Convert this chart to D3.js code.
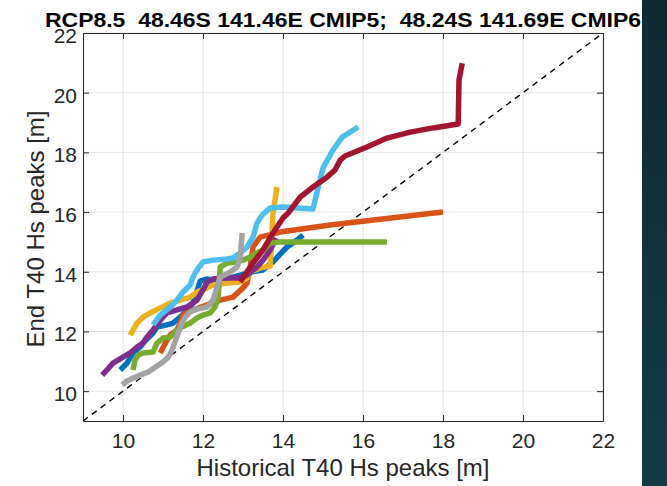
<!DOCTYPE html>
<html>
<head>
<meta charset="utf-8">
<script src="https://cdn.jsdelivr.net/npm/d3@7"></script>
<style>
  html, body { margin: 0; padding: 0; background: #ffffff; }
  svg { display: block; }
  text { font-family: "Liberation Sans", Arial, Helvetica, sans-serif; }
</style>
</head>
<body>
<svg id="chart" width="667" height="486"></svg>
<script>
// ---------- data ----------
const titleText = "RCP8.5  48.46S 141.46E CMIP5;  48.24S 141.69E CMIP6";
const xLabel = "Historical T40 Hs peaks [m]";
const yLabel = "End T40 Hs peaks [m]";
const xTicks = [10, 12, 14, 16, 18, 20, 22];
const yTicks = [10, 12, 14, 16, 18, 20, 22];
const axisRange = [9, 22];

// each series: [historical, end] pairs
const blueSeries = [[9.93,10.71],[10.1,10.94],[10.25,11.28],[10.43,11.48],[10.5,11.61],[10.75,11.95],[10.85,12.15],[11.1,12.22],[11.25,12.28],[11.43,12.48],[11.6,12.72],[11.75,12.95],[11.93,13.69],[12.1,13.76],[12.25,13.72],[12.6,13.76],[12.93,13.89],[13.18,13.99],[13.5,14.06],[13.75,14.33],[13.93,14.59],[14.1,14.83],[14.35,15.06],[14.5,15.23]];
const orangeSeries = [[10.93,11.28],[11.1,11.71],[11.18,11.88],[11.35,12.05],[11.43,12.28],[11.5,12.55],[11.75,12.72],[12.1,12.89],[12.43,13.05],[12.75,13.15],[13.0,13.46],[13.1,13.62],[13.18,14.16],[13.25,14.83],[13.43,15.16],[13.93,15.33],[15.18,15.57],[18.0,16.0]];
const yellowSeries = [[10.18,11.88],[10.35,12.28],[10.5,12.48],[10.68,12.62],[10.93,12.79],[11.18,12.95],[11.43,13.05],[11.68,13.15],[11.85,13.32],[12.1,13.46],[12.25,13.56],[12.6,13.62],[12.93,13.66],[13.1,13.79],[13.18,13.99],[13.43,14.13],[13.68,14.19],[13.75,15.97],[13.85,16.84]];
const purpleSeries = [[9.48,10.54],[9.6,10.71],[9.75,10.94],[10.0,11.14],[10.18,11.28],[10.35,11.48],[10.5,11.61],[10.6,11.81],[10.75,12.05],[10.93,12.38],[11.1,12.62],[11.35,12.72],[11.6,12.82],[11.85,13.05],[12.0,13.39],[12.1,13.66],[12.25,13.76],[12.5,13.79],[12.85,13.79],[13.1,13.89],[13.35,14.16],[13.5,14.39],[13.68,14.73],[13.83,15.13]];
const greenSeries = [[10.25,10.71],[10.3,11.04],[10.38,11.21],[10.5,11.28],[10.75,11.31],[10.85,11.61],[11.0,11.78],[11.18,11.81],[11.3,11.98],[11.43,12.12],[11.68,12.28],[11.85,12.45],[12.0,12.55],[12.18,12.62],[12.3,12.82],[12.38,13.15],[12.43,14.16],[12.6,14.29],[12.85,14.33],[13.0,14.39],[13.18,14.49],[13.35,14.63],[13.5,14.73],[13.68,14.96],[13.93,15.0],[16.6,15.0]];
const lightBlueSeries = [[10.75,12.22],[10.93,12.55],[11.18,12.82],[11.35,13.05],[11.5,13.32],[11.68,13.56],[11.75,13.82],[11.85,14.06],[12.0,14.33],[12.25,14.39],[12.6,14.43],[12.75,14.46],[12.93,14.63],[13.1,14.83],[13.25,15.16],[13.35,15.63],[13.48,15.9],[13.68,16.14],[14.0,16.17],[14.75,16.1],[14.88,16.84],[15.0,17.48],[15.25,18.08],[15.48,18.51],[15.88,18.85]];
const darkRedSeries = [[12.93,13.66],[13.1,14.0],[13.25,14.29],[13.5,14.73],[13.75,15.3],[14.0,15.8],[14.13,15.97],[14.43,16.5],[14.75,16.84],[15.1,17.17],[15.3,17.41],[15.43,17.74],[15.55,17.88],[16.1,18.18],[16.6,18.48],[17.18,18.68],[17.75,18.82],[18.38,18.95],[18.4,20.42],[18.48,20.99]];
const graySeries = [[9.98,10.21],[10.1,10.34],[10.25,10.44],[10.43,10.54],[10.63,10.64],[10.85,10.84],[11.0,10.98],[11.13,11.14],[11.23,11.38],[11.3,11.65],[11.38,11.95],[11.45,12.22],[11.55,12.48],[11.68,12.65],[11.85,12.75],[12.1,12.82],[12.25,13.05],[12.35,13.49],[12.43,13.82],[12.68,13.99],[12.85,14.16],[12.93,14.46],[12.98,15.3]];

const seriesList = [blueSeries, orangeSeries, yellowSeries, purpleSeries, greenSeries, lightBlueSeries, darkRedSeries, graySeries];
const seriesColors = ["#0072BD", "#D95319", "#EDB120", "#7E2F8E", "#77AC30", "#4DBEEE", "#A2142F", "#A3A3A3"];
const diagonal = [[9, 9], [22, 22]];

// ---------- layout ----------
const W = 667, H = 486;
const plot = { left: 83, right: 603, top: 33, bottom: 421 };
const axisColor = "#262626";

const svg = d3.select("#chart");

// background + dark strip
const defs = svg.append("defs");
const grad = defs.append("linearGradient").attr("id", "strip").attr("x1", 0).attr("y1", 0).attr("x2", 0).attr("y2", 1);
grad.append("stop").attr("offset", "0%").attr("stop-color", "#0e2a35");
grad.append("stop").attr("offset", "100%").attr("stop-color", "#153a48");
svg.append("rect").attr("x", 0).attr("y", 0).attr("width", W).attr("height", H).attr("fill", "#ffffff");
svg.append("rect").attr("x", 642).attr("y", 0).attr("width", W - 642).attr("height", H).attr("fill", "url(#strip)");

defs.append("clipPath").attr("id", "clip").append("rect")
  .attr("x", plot.left).attr("y", plot.top)
  .attr("width", plot.right - plot.left).attr("height", plot.bottom - plot.top);

const x = d3.scaleLinear().domain(axisRange).range([plot.left, plot.right]);
const y = d3.scaleLinear().domain(axisRange).range([plot.bottom, plot.top]);

// grid
const grid = svg.append("g");
grid.selectAll("line.gx").data(xTicks).join("line")
  .attr("x1", d => x(d)).attr("x2", d => x(d))
  .attr("y1", plot.top).attr("y2", plot.bottom)
  .attr("stroke", "#e3e3e3").attr("stroke-width", 1);
grid.selectAll("line.gy").data(yTicks).join("line")
  .attr("y1", d => y(d)).attr("y2", d => y(d))
  .attr("x1", plot.left).attr("x2", plot.right)
  .attr("stroke", "#e3e3e3").attr("stroke-width", 1);

// diagonal dashed line
const line = d3.line().x(d => x(d[0])).y(d => y(d[1]));
const plotG = svg.append("g").attr("clip-path", "url(#clip)");
plotG.append("path").datum(diagonal).attr("d", line)
  .attr("fill", "none").attr("stroke", "#000").attr("stroke-width", 1.4)
  .attr("stroke-dasharray", "6,5");

// series lines
plotG.selectAll("path.series").data(seriesList).join("path")
  .attr("class", "series")
  .attr("d", line)
  .attr("fill", "none")
  .attr("stroke", (d, i) => seriesColors[i])
  .attr("stroke-width", 5.5)
  .attr("stroke-linejoin", "round")
  .attr("stroke-linecap", "butt");

// axes
const fontTick = "21px";
const bottomAxis = d3.axisBottom(x).tickValues(xTicks).tickSizeInner(-6).tickSizeOuter(0).tickPadding(12).tickFormat(d3.format("d"));
const topAxis = d3.axisTop(x).tickValues(xTicks).tickSizeInner(-6).tickSizeOuter(0).tickFormat("");
const leftAxis = d3.axisLeft(y).tickValues(yTicks).tickSizeInner(-6).tickSizeOuter(0).tickPadding(6).tickFormat(d3.format("d"));
const rightAxis = d3.axisRight(y).tickValues(yTicks).tickSizeInner(-6).tickSizeOuter(0).tickFormat("");

function styleAxis(g) {
  g.select(".domain").attr("stroke", axisColor).attr("stroke-width", 1);
  g.selectAll(".tick line").attr("stroke", axisColor).attr("stroke-width", 1);
  g.selectAll(".tick text").attr("fill", axisColor).style("font-size", fontTick)
    .style("font-family", '"Liberation Sans", Arial, Helvetica, sans-serif');
}
svg.append("g").attr("transform", `translate(0,${plot.bottom})`).call(bottomAxis).call(styleAxis);
svg.append("g").attr("transform", `translate(0,${plot.top})`).call(topAxis).call(styleAxis);
const gl = svg.append("g").attr("transform", `translate(${plot.left},0)`).call(leftAxis).call(styleAxis);
gl.selectAll(".tick text").attr("dy", "0.45em");
svg.append("g").attr("transform", `translate(${plot.right},0)`).call(rightAxis).call(styleAxis);

// labels
svg.append("text")
  .attr("x", (plot.left + plot.right) / 2).attr("y", 476)
  .attr("text-anchor", "middle").attr("fill", axisColor)
  .style("font-size", "24px").text(xLabel);
svg.append("text")
  .attr("transform", `translate(44,${(plot.top + plot.bottom) / 2 + 2}) rotate(-90)`)
  .attr("text-anchor", "middle").attr("fill", axisColor)
  .style("font-size", "24px").text(yLabel);

// title
svg.append("text")
  .attr("x", 45).attr("y", 27)
  .attr("fill", "#000").style("font-weight", "bold").style("font-size", "21px")
  .style("white-space", "pre")
  .attr("textLength", 596).attr("lengthAdjust", "spacingAndGlyphs")
  .text(titleText);
</script>
</body>
</html>
